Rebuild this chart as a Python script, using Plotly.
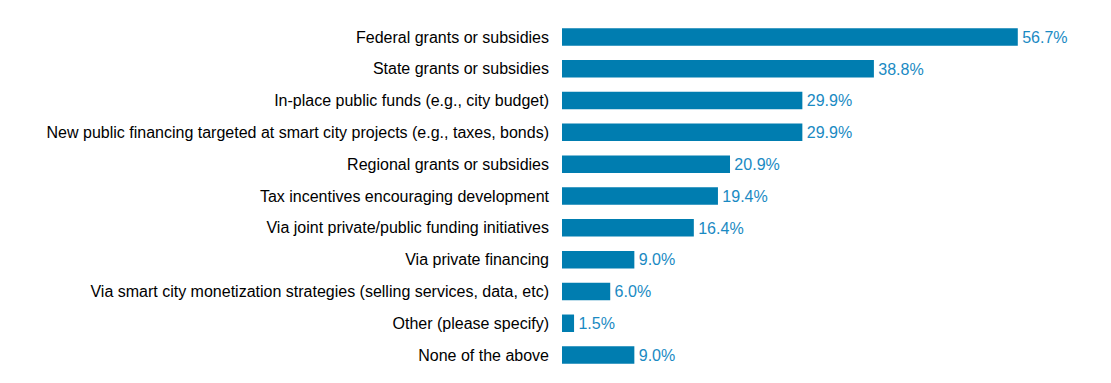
import plotly.graph_objects as go

categories = [
    "Federal grants or subsidies",
    "State grants or subsidies",
    "In-place public funds (e.g., city budget)",
    "New public financing targeted at smart city projects (e.g., taxes, bonds)",
    "Regional grants or subsidies",
    "Tax incentives encouraging development",
    "Via joint private/public funding initiatives",
    "Via private financing",
    "Via smart city monetization strategies (selling services, data, etc)",
    "Other (please specify)",
    "None of the above",
]
values = [56.7, 38.8, 29.9, 29.9, 20.9, 19.4, 16.4, 9.0, 6.0, 1.5, 9.0]
labels = [f"\u200a{v:.1f}%" for v in values]

fig = go.Figure(
    go.Bar(
        y=categories,
        x=values,
        orientation="h",
        marker=dict(color="#007DB0", line=dict(width=0)),
        text=labels,
        textposition="outside",
        textfont=dict(family="Liberation Sans, Arial", size=16.5, color="#1A8AC3"),
        cliponaxis=False,
    )
)

fig.update_layout(
    width=1095,
    height=367,
    margin=dict(l=554, r=0, t=13, b=4, autoexpand=False),
    plot_bgcolor="white",
    paper_bgcolor="white",
    bargap=0.45,
    showlegend=False,
    font=dict(family="Liberation Sans, Arial", size=16, color="#000000"),
)
fig.update_xaxes(range=[0, 67.3], visible=False, showgrid=False, zeroline=False)
fig.update_yaxes(
    autorange="reversed",
    showgrid=False,
    zeroline=False,
    showline=False,
    ticks="",
    ticklabelstandoff=12,
    tickfont=dict(family="Liberation Sans, Arial", size=16, color="#000000"),
)

fig.write_html("out.html")
